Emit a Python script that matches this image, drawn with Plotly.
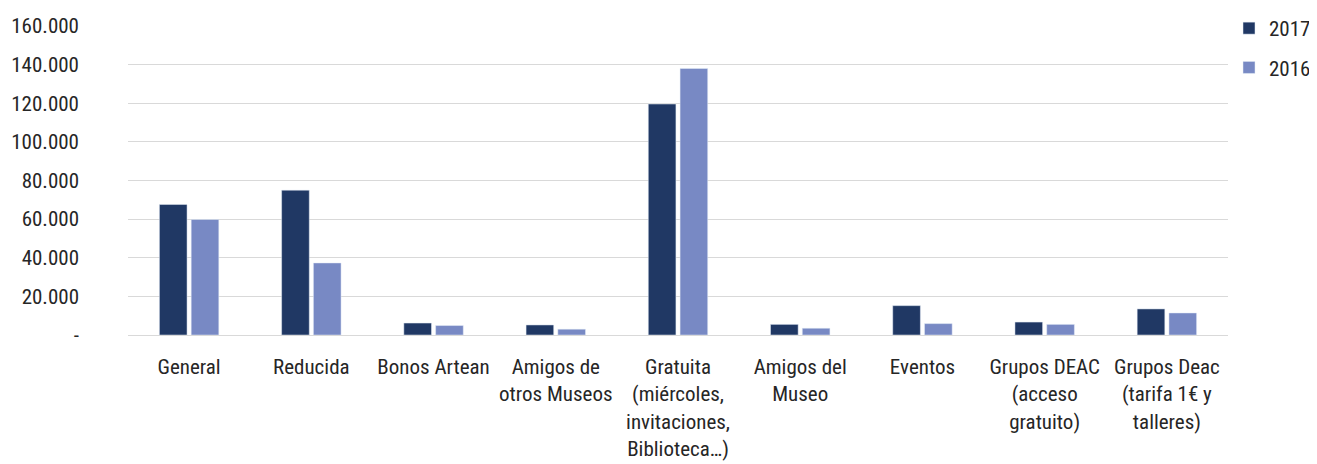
import plotly.graph_objects as go

categories = ["General", "Reducida", "Bonos Artean", "Amigos de<br>otros Museos",
              "Gratuita<br>(miércoles,<br>invitaciones,<br>Biblioteca…)",
              "Amigos del<br>Museo", "Eventos", "Grupos DEAC<br>(acceso<br>gratuito)",
              "Grupos Deac<br>(tarifa 1€ y<br>talleres)"]
v2017 = [67600, 75000, 6200, 5200, 119600, 5500, 15200, 6700, 13500]
v2016 = [59800, 37300, 4900, 3000, 138000, 3500, 5900, 5500, 11400]
tick_vals = [0, 20000, 40000, 60000, 80000, 100000, 120000, 140000, 160000]
tick_text = ["-", "20.000", "40.000", "60.000", "80.000", "100.000", "120.000", "140.000", "160.000"]

FONT = "Liberation Sans Narrow, Roboto Condensed, Arial Narrow, Roboto, sans-serif"

fig = go.Figure()
fig.add_trace(go.Bar(name="2017", x=categories, y=v2017, marker_color="#203864", legendgroup="a"))
fig.add_trace(go.Bar(name="2016", x=categories, y=v2016, marker_color="#7889C4", legendgroup="b"))

fig.update_layout(
    width=1317, height=464,
    barmode="group", bargap=0.48, bargroupgap=0.13,
    plot_bgcolor="white", paper_bgcolor="white",
    margin=dict(l=120, r=97, t=18, b=137),
    font=dict(family=FONT, size=21, color="#262626"),
    legend=dict(x=1308/1317, y=1 + 2/464, xref="container", yref="container",
                xanchor="right", yanchor="top",
                font=dict(size=21), itemwidth=30, tracegroupgap=9,
                bgcolor="rgba(0,0,0,0)"),
    xaxis=dict(showline=False, ticks="", tickfont=dict(size=21), automargin=False,
               ticklabelstandoff=17),
    yaxis=dict(range=[0, 160000], tickvals=tick_vals, ticktext=tick_text,
               showgrid=True, gridcolor="#d9d9d9", gridwidth=1,
               zeroline=True, zerolinecolor="#d9d9d9", zerolinewidth=1,
               ticks="", ticklen=0, tickfont=dict(size=21), automargin=False,
               ticklabelstandoff=48),
)

fig.write_html("out.html")
